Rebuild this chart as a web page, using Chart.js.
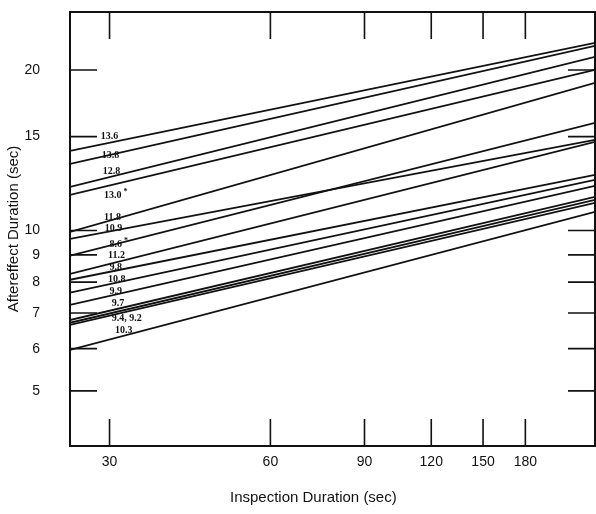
<!DOCTYPE html>
<html>
<head>
<meta charset="utf-8">
<script src="https://cdn.jsdelivr.net/npm/chart.js@4.4.1/dist/chart.umd.min.js"></script>
<style>
  html, body { margin: 0; padding: 0; background: #fff; }
  #wrap { width: 596px; height: 514px; }
</style>
</head>
<body>
<div id="wrap"><canvas id="aftereffect"></canvas></div>
<script>
// inspection durations at the two ends of every fitted line (plot edges)
const inspectionEnds = [25.3, 243];
// aftereffect duration at the left end and at the right end of each line
//                  13.6   13.8   12.8   13.0   11.8  10.9   8.6   11.2  9.8   10.8  9.9   9.7   9.4   9.2   10.3
const lineStart = [14.10, 13.33, 12.07, 11.66, 9.94, 9.64, 8.97, 8.29, 8.08, 7.64, 7.25, 6.79, 6.71, 6.65, 5.97];
const lineEnd   = [22.49, 22.20, 21.17, 20.02, 18.92, 14.79, 15.92, 14.66, 12.72, 12.44, 12.12, 11.56, 11.41, 11.27, 10.84];

// hand written numbers next to the lines
const noteText = ['13.6', '13.8', '12.8', '13.0', '11.8', '10.9', '8.6', '11.2', '9.8', '10.8', '9.9', '9.7', '9.4, 9.2', '10.3'];
const noteStar = [false, false, false, true, false, false, true, false, false, false, false, false, false, false];
const noteX = [28.9, 29.0, 29.15, 29.3, 29.3, 29.4, 30.0, 29.8, 30.0, 29.8, 30.0, 30.3, 30.3, 30.7];
const noteY = [14.98, 13.80, 12.88, 11.61, 10.60, 10.07, 9.40, 8.96, 8.51, 8.08, 7.70, 7.31, 6.85, 6.48];

const xTicks = [30, 60, 90, 120, 150, 180];
const yTicks = [5, 6, 7, 8, 9, 10, 15, 20];
const xTitle = 'Inspection Duration (sec)';

const datasets = lineStart.map((v, i) => ({
    data: [{ x: inspectionEnds[0], y: v }, { x: inspectionEnds[1], y: lineEnd[i] }],
    borderColor: '#111',
    borderWidth: 1.8,
    pointRadius: 0,
    tension: 0,
    fill: false
}));

// frame, inward tick marks on all four sides, the little notes and the x title
const framePlugin = {
    id: 'frame',
    afterDatasetsDraw(chart) {
        const { ctx, chartArea: a, scales } = chart;
        const len = 27;
        ctx.save();
        ctx.strokeStyle = '#111';
        ctx.lineWidth = 2;
        ctx.strokeRect(a.left, a.top, a.right - a.left, a.bottom - a.top);
        ctx.lineWidth = 1.6;
        ctx.beginPath();
        xTicks.forEach(t => {
            const px = scales.x.getPixelForValue(t);
            ctx.moveTo(px, a.top); ctx.lineTo(px, a.top + len);
            ctx.moveTo(px, a.bottom); ctx.lineTo(px, a.bottom - len);
        });
        yTicks.forEach(t => {
            const py = scales.y.getPixelForValue(t);
            ctx.moveTo(a.left, py); ctx.lineTo(a.left + len, py);
            ctx.moveTo(a.right, py); ctx.lineTo(a.right - len, py);
        });
        ctx.stroke();

        ctx.fillStyle = '#111';
        ctx.textBaseline = 'middle';
        ctx.textAlign = 'left';
        noteText.forEach((txt, i) => {
            const px = scales.x.getPixelForValue(noteX[i]);
            const py = scales.y.getPixelForValue(noteY[i]);
            ctx.font = 'bold 10px "Liberation Serif"';
            ctx.fillText(txt, px, py);
            if (noteStar[i]) {
                const w = ctx.measureText(txt).width;
                ctx.font = 'bold 8px "Liberation Serif"';
                ctx.fillText('*', px + w + 2, py - 4);
            }
        });

        // the printed axis title sits a little left of the plot centre
        ctx.textAlign = 'center';
        ctx.font = '15px "Liberation Sans"';
        ctx.fillText(xTitle, a.left + (a.right - a.left) * 0.4635, chart.height - 16);
        ctx.restore();
    }
};

new Chart(document.getElementById('aftereffect'), {
    type: 'line',
    data: { datasets },
    options: {
        responsive: true,
        maintainAspectRatio: false,
        animation: false,
        layout: { padding: { top: 12, right: 1, left: 0, bottom: 0 } },
        plugins: { legend: { display: false }, tooltip: { enabled: false } },
        scales: {
            x: {
                type: 'logarithmic',
                min: 25.3,
                max: 243,
                afterBuildTicks: s => { s.ticks = xTicks.map(v => ({ value: v })); },
                afterFit: s => { s.height = 68; s.paddingLeft = 0; s.paddingRight = 0; },
                grid: { display: false, drawTicks: false },
                border: { display: false },
                ticks: {
                    autoSkip: false,
                    maxRotation: 0,
                    padding: 8,
                    color: '#111',
                    font: { family: 'Liberation Sans', size: 14 },
                    callback: v => String(v)
                },
                title: { display: false }
            },
            y: {
                type: 'logarithmic',
                min: 3.94,
                max: 25.7,
                afterBuildTicks: s => { s.ticks = yTicks.map(v => ({ value: v })); },
                afterFit: s => { s.width = 70; s.paddingTop = 0; s.paddingBottom = 0; },
                grid: { display: false, drawTicks: false },
                border: { display: false },
                ticks: {
                    autoSkip: false,
                    padding: 30,
                    color: '#111',
                    font: { family: 'Liberation Sans', size: 14 },
                    callback: v => String(v)
                },
                title: {
                    display: true,
                    text: 'Aftereffect Duration (sec)',
                    color: '#111',
                    font: { family: 'Liberation Sans', size: 15 },
                    padding: { top: 5, bottom: 0 }
                }
            }
        }
    },
    plugins: [framePlugin]
});
</script>
</body>
</html>
